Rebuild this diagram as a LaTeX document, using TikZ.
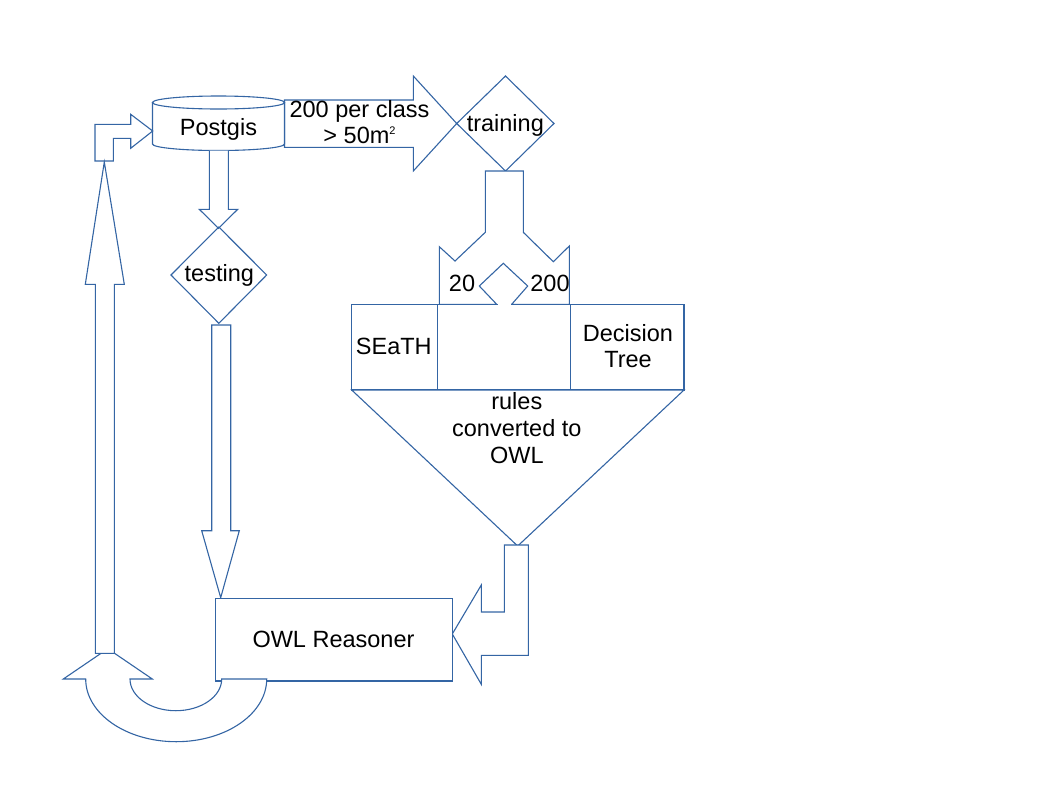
\documentclass[tikz,border=0pt]{standalone}
\usepackage{fontspec}
\setmainfont{Liberation Sans}
\definecolor{lo}{HTML}{3465A4}
\begin{document}
\begin{tikzpicture}[x=1pt,y=-1pt,
  shapeline/.style={draw=lo,line width=1.1pt,fill=white,line join=miter},
  lbl/.style={inner sep=0pt,anchor=base,font=\fontsize{23.5}{26}\selectfont},
  lbl2/.style={inner sep=0pt,anchor=base,align=center,font=\fontsize{23.5}{27}\selectfont}]
\useasboundingbox (0,0) rectangle (1047,785);
% big right arrow
\draw[shapeline] (284.5,100) -- (413.3,100) -- (413.3,76) -- (456.7,123.5) -- (413.3,171) -- (413.3,147.3) -- (284.5,147.3) -- cycle;
% cylinder Postgis
\draw[shapeline] (152.5,102.5) -- (152.5,144)
  .. controls (152.5,147.6) and (182.05,150.5) .. (218.5,150.5)
  .. controls (254.95,150.5) and (284.5,147.6) .. (284.5,144) -- (284.5,102.5);
\draw[shapeline] (218.5,102.5) ellipse [x radius=66, y radius=6.5];
\node[lbl] (postgis) at (218.5,135) {Postgis};
% bent arrow into Postgis
\draw[shapeline] (95,161) -- (95,124.3) -- (130.7,124.3) -- (130.7,114.3) -- (152.7,131) -- (130.7,148.3) -- (130.7,138.3) -- (113.3,138.3) -- (113.3,161) -- cycle;
% Postgis -> testing arrow
\draw[shapeline] (209.3,150.5) -- (209.3,209.3) -- (199.3,209.3) -- (218.5,228.3) -- (237.7,209.3) -- (228.3,209.3) -- (228.3,150.5);
% testing diamond
\draw[shapeline,fill=none] (171,275) -- (218.8,227) -- (266.7,275) -- (218.8,323.3) -- cycle;
\node[lbl] (testing) at (219.3,281.7) {testing};
% training diamond
\draw[shapeline,fill=none] (456.7,123.5) -- (505.5,76) -- (554,123.5) -- (505.5,171) -- cycle;
\node[lbl] (training) at (505.3,131.7) {training};
% arrow label
\node[lbl] (cls) at (359.5,117.3) {200 per class};
\node[lbl] (area) at (359.5,143.3) {> 50m\raisebox{9pt}{\fontsize{11}{11}\selectfont 2}};
% rectangles
\draw[shapeline,fill=none] (351.7,304.3) rectangle (437.3,390);
\draw[shapeline,fill=none] (437.3,304.3) rectangle (570.3,390);
\draw[shapeline,fill=none] (570.3,304.3) rectangle (684,390);
% split arrow
\draw[shapeline] (485.3,171) -- (523.3,171) -- (523.3,232.3) -- (553.3,261.7) -- (569.3,246) -- (569.3,304.3) -- (511.7,304.3) -- (527.7,286) -- (503.3,263.3) -- (479.3,286) -- (496.7,304.3) -- (439.3,304.3) -- (439.3,246.7) -- (455,261) -- (485.3,232.3) -- cycle;
\draw[white,line width=1.6pt] (497.8,304.3) -- (510.6,304.3);
\node[lbl] (n20) at (462,291) {20};
\node[lbl] (n200) at (550,291) {200};
\node[lbl] (seath) at (393.8,354.3) {SEaTH};
\node[lbl,align=center,font=\fontsize{23.5}{25.6}\selectfont] (dt) at (628,367.3) {Decision\\Tree};
% funnel
\draw[shapeline] (351.7,390) -- (684,390) -- (517.7,546) -- cycle;
\node[lbl2] (rules) at (516.8,463.3) {rules\\converted to\\OWL};
% funnel -> OWL arrow
\draw[shapeline] (504.3,545) -- (528.3,545) -- (528.3,655.3) -- (481.3,655.3) -- (481.3,684.3) -- (452.3,634) -- (481.3,585) -- (481.3,612) -- (504.3,612) -- cycle;
% testing -> OWL arrow
\draw[shapeline] (211.7,325) -- (230.7,325) -- (230.7,530.7) -- (239.3,530.7) -- (220.7,597.7) -- (201.7,530.7) -- (211.7,530.7) -- cycle;
% OWL reasoner box
\draw[shapeline] (215.7,598.3) rectangle (452.3,681);
\node[lbl] (owl) at (333.5,647.7) {OWL Reasoner};
% U-turn arrow
\draw[shapeline] (85.7,679)
  .. controls (85.7,713.63) and (126.22,741.7) .. (176.2,741.7)
  .. controls (226.18,741.7) and (266.7,713.63) .. (266.7,679)
  -- (221.7,679)
  .. controls (221.7,696.51) and (201.17,710.7) .. (175.85,710.7)
  .. controls (150.53,710.7) and (130,696.51) .. (130,679)
  -- (152.3,679) -- (107.8,648.7) -- (63.3,679) -- cycle;
% long up arrow
\draw[shapeline] (95.3,653.3) -- (95.3,284.3) -- (85.3,284.3) -- (104.3,162) -- (124.3,284.3) -- (114.3,284.3) -- (114.3,653.3) -- cycle;
\end{tikzpicture}
\end{document}
